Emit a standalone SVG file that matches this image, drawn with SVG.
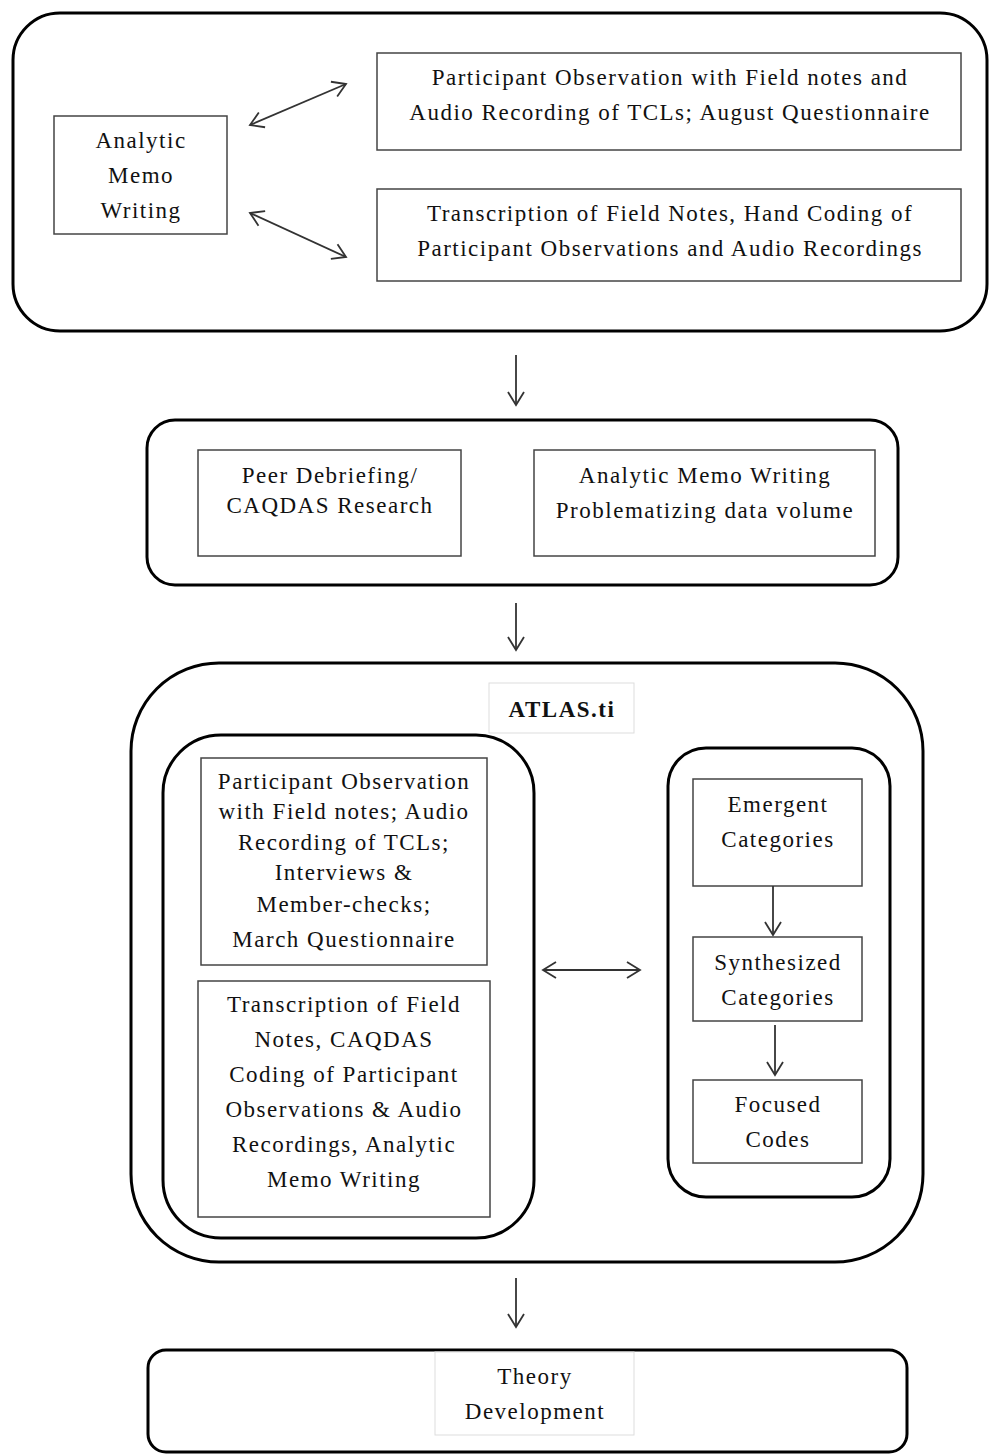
<svg xmlns="http://www.w3.org/2000/svg" width="989" height="1454" viewBox="0 0 989 1454">
<defs>
<style>
.t{font-family:"Liberation Serif","Times New Roman",serif;font-size:23px;letter-spacing:1.5px;fill:#111;text-anchor:middle}
.b{font-weight:bold}
.outer{fill:none;stroke:#000;stroke-width:3}
.box{fill:#fff;stroke:#444;stroke-width:1.5}
.lbl{fill:#fff;stroke:#ddd;stroke-width:1}
.con{fill:none;stroke:#333;stroke-width:1.8}
</style>
<marker id="ah" markerUnits="userSpaceOnUse" viewBox="0 0 20 20" markerWidth="20" markerHeight="20" refX="16" refY="10" orient="auto-start-reverse">
<path d="M3,2 L16,10 L3,18" fill="none" stroke="#333" stroke-width="1.8"/>
</marker>
</defs>
<rect width="989" height="1454" fill="#fff"/>

<g id="stage1">
<rect class="outer" x="13" y="13" width="974" height="318" rx="47"/>
</g>
<g id="memo1">
<rect class="box" x="54" y="116" width="173" height="118"/>
<text class="t" x="141" y="148">Analytic</text>
<text class="t" x="141" y="183">Memo</text>
<text class="t" x="141" y="218">Writing</text>
</g>
<g id="obs1">
<rect class="box" x="377" y="53" width="584" height="97"/>
<text class="t" x="670" y="85">Participant Observation with Field notes and</text>
<text class="t" x="670" y="120">Audio Recording of TCLs; August Questionnaire</text>
</g>
<g id="trans1">
<rect class="box" x="377" y="189" width="584" height="92"/>
<text class="t" x="670" y="221">Transcription of Field Notes, Hand Coding of</text>
<text class="t" x="670" y="256">Participant Observations and Audio Recordings</text>
</g>

<g id="stage2">
<rect class="outer" x="147" y="420" width="751" height="165" rx="28"/>
</g>
<g id="peer">
<rect class="box" x="198" y="450" width="263" height="106"/>
<text class="t" x="330" y="483">Peer Debriefing/</text>
<text class="t" x="330" y="513">CAQDAS Research</text>
</g>
<g id="memo2">
<rect class="box" x="534" y="450" width="341" height="106"/>
<text class="t" x="705" y="483">Analytic Memo Writing</text>
<text class="t" x="705" y="518">Problematizing data volume</text>
</g>

<g id="atlas">
<rect class="outer" x="131" y="663" width="792" height="599" rx="88"/>
<rect class="lbl" x="489" y="683" width="145" height="50"/>
<text class="t b" x="562" y="717">ATLAS.ti</text>
</g>
<g id="dataGroup">
<rect class="outer" x="163" y="735" width="371" height="503" rx="58"/>
</g>
<g id="obs2">
<rect class="box" x="201" y="758" width="286" height="207"/>
<text class="t" x="344" y="789">Participant Observation</text>
<text class="t" x="344" y="819">with Field notes; Audio</text>
<text class="t" x="344" y="850">Recording of TCLs;</text>
<text class="t" x="344" y="880">Interviews &amp;</text>
<text class="t" x="344" y="912">Member-checks;</text>
<text class="t" x="344" y="947">March Questionnaire</text>
</g>
<g id="trans2">
<rect class="box" x="198" y="981" width="292" height="236"/>
<text class="t" x="344" y="1012">Transcription of Field</text>
<text class="t" x="344" y="1047">Notes, CAQDAS</text>
<text class="t" x="344" y="1082">Coding of Participant</text>
<text class="t" x="344" y="1117">Observations &amp; Audio</text>
<text class="t" x="344" y="1152">Recordings, Analytic</text>
<text class="t" x="344" y="1187">Memo Writing</text>
</g>
<g id="catGroup">
<rect class="outer" x="668" y="748" width="222" height="449" rx="38"/>
</g>
<g id="emergent">
<rect class="box" x="693" y="779" width="169" height="107"/>
<text class="t" x="778" y="812">Emergent</text>
<text class="t" x="778" y="847">Categories</text>
</g>
<g id="synth">
<rect class="box" x="693" y="937" width="169" height="84"/>
<text class="t" x="778" y="970">Synthesized</text>
<text class="t" x="778" y="1005">Categories</text>
</g>
<g id="focused">
<rect class="box" x="693" y="1080" width="169" height="83"/>
<text class="t" x="778" y="1112">Focused</text>
<text class="t" x="778" y="1147">Codes</text>
</g>

<g id="theory">
<rect class="outer" x="148" y="1350" width="759" height="102" rx="18"/>
<rect class="lbl" x="435" y="1352" width="199" height="83"/>
<text class="t" x="535" y="1384">Theory</text>
<text class="t" x="535" y="1419">Development</text>
</g>

<g id="connectors">
<line class="con" x1="250" y1="125" x2="346" y2="84" marker-start="url(#ah)" marker-end="url(#ah)"/>
<line class="con" x1="250" y1="213" x2="346" y2="257" marker-start="url(#ah)" marker-end="url(#ah)"/>
<line class="con" x1="516" y1="355" x2="516" y2="405" marker-end="url(#ah)"/>
<line class="con" x1="516" y1="603" x2="516" y2="650" marker-end="url(#ah)"/>
<line class="con" x1="543" y1="970" x2="640" y2="970" marker-start="url(#ah)" marker-end="url(#ah)"/>
<line class="con" x1="773" y1="886" x2="773" y2="935" marker-end="url(#ah)"/>
<line class="con" x1="775" y1="1025" x2="775" y2="1075" marker-end="url(#ah)"/>
<line class="con" x1="516" y1="1278" x2="516" y2="1327" marker-end="url(#ah)"/>
</g>
</svg>
